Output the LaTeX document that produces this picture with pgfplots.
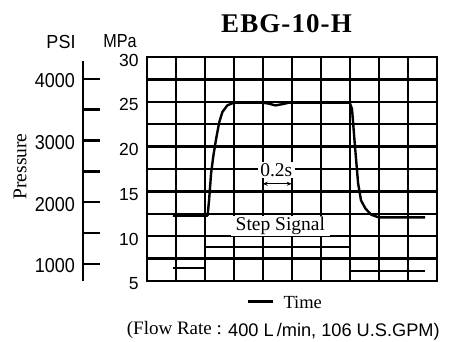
\documentclass[border=0pt]{standalone}
\usepackage{fontspec}
\setmainfont{Liberation Serif}
\setsansfont{Liberation Sans}
\usepackage{pgfplots}
\pgfplotsset{compat=1.18}
\usetikzlibrary{arrows.meta}
\begin{document}
\begin{tikzpicture}[x=1pt,y=1pt]
\path[use as bounding box] (0,0) rectangle (455,342);
% PSI axis
\begin{axis}[
  at={(83pt,61pt)}, anchor=south west,
  scale only axis, width=20pt, height=224pt,
  xmin=0, xmax=1, ymin=725.19, ymax=4351.14,
  hide x axis,
  axis y line=left,
  y axis line style={line width=2.3pt, -, shorten >=4.5pt},
  ytick={1000,1500,2000,2500,3000,3500,4000},
  yticklabels={1000,,2000,,3000,,4000},
  tick align=inside,
  major tick length=17pt,
  tick style={line width=2.3pt, black},
  yticklabel style={font=\sffamily\fontsize{18}{18}\selectfont, inner sep=0pt, xshift=-8pt, yshift=-2pt, yscale=1.12},
]
\addplot[draw=none] coordinates {(0,1000)};
\end{axis}
% main axis
\begin{axis}[
  at={(146.7pt,61pt)}, anchor=south west,
  scale only axis, width=290pt, height=224pt,
  xmin=0, xmax=10, ymin=5, ymax=30,
  xtick={0,1,2,3,4,5,6,7,8,9,10}, xticklabels={},
  ytick={5,7.5,10,12.5,15,17.5,20,22.5,25,27.5,30},
  yticklabels={5,,10,,15,,20,,25,,30},
  major tick length=0pt,
  grid=major,
  grid style={black, line width=2.3pt},
  axis line style={black, line width=2.3pt},
  yticklabel style={font=\sffamily\fontsize{17.5}{17.5}\selectfont, inner sep=0pt, xshift=-8pt, yshift=-3pt},
  clip=false,
]
% pressure response
\addplot[black, line width=2.4pt, line join=round] coordinates {
(0.9,12.3) (2.1,12.3) (2.15,14.0) (2.22,17.0) (2.3,19.0) (2.39,20.8) (2.5,22.7) (2.61,23.86) (2.78,24.6) (3.0,24.9)
(4.0,24.9) (4.2,24.8) (4.44,24.6) (4.7,24.75) (4.9,24.9)
(7.0,24.9) (7.08,24.2) (7.18,20.1) (7.29,15.9) (7.39,14.0) (7.54,13.1) (7.74,12.4) (8.0,12.1) (9.6,12.1)
};
% step signal
\addplot[black, line width=2.3pt] coordinates {
(0.9,6.45) (2,6.45) (2,8.8) (7,8.8) (7,6.15) (9.6,6.15)
};
\node[fill=white, inner xsep=5pt, inner ysep=1.5pt, font=\fontsize{19.5}{19.5}\selectfont] at (axis cs:4.61,11.14) {Step Signal};
\node[fill=white, inner xsep=2.5pt, inner ysep=1.5pt, font=\fontsize{19.5}{19.5}\selectfont] at (axis cs:4.47,17.35) {0.2s};
\draw[{Stealth[length=5pt,width=4pt]}-{Stealth[length=5pt,width=4pt]}, line width=1.3pt] (axis cs:4,15.85) -- (axis cs:5,15.85);
\end{axis}
% texts
\node[anchor=base, inner sep=0pt, font=\bfseries\fontsize{27}{27}\selectfont\addfontfeature{LetterSpace=4}] at (286.5,309.3) {EBG-10-H};
\node[rotate=90, inner sep=0pt, font=\fontsize{19.5}{19.5}\selectfont] at (20,175.5) {Pressure};
\node[inner sep=0pt, font=\sffamily\fontsize{18}{18}\selectfont, yscale=1.05] at (61,300.5) {PSI};
\node[inner sep=0pt, font=\sffamily\fontsize{18}{18}\selectfont, xscale=0.9, yscale=1.05] at (120,300.5) {MPa};
\draw[line width=2.4pt] (248.3,40.3) -- (273.3,40.3);
\node[anchor=base west, inner sep=0pt, font=\fontsize{18.5}{18.5}\selectfont] at (283.3,33) {Time};
\node[anchor=base west, inner sep=0pt, font=\fontsize{19}{19}\selectfont] at (126.7,7) {(Flow Rate : \raisebox{-1.5pt}{\sffamily\fontsize{18.2}{18.2}\selectfont 400 L\,/min, 106 U.S.GPM)}};
\end{tikzpicture}
\end{document}
